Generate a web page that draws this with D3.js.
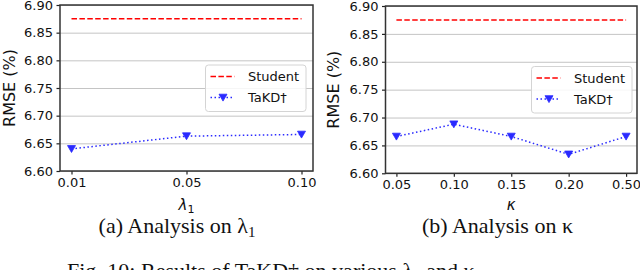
<!DOCTYPE html>
<html>
<head>
<meta charset="utf-8">
<script src="https://cdn.jsdelivr.net/npm/d3@7"></script>
<style>
  html, body { margin: 0; padding: 0; background: #fff; }
  svg { display: block; }
</style>
</head>
<body>
<svg id="chart" width="640" height="270"></svg>
<script>
// ---- data ----
const lambdaCats = ["0.01", "0.05", "0.10"];
const lambdaStudent = [6.875, 6.875, 6.875];
const lambdaTaKD = [6.640, 6.663, 6.666];

const kappaCats = ["0.05", "0.10", "0.15", "0.20", "0.50"];
const kappaStudent = [6.875, 6.875, 6.875, 6.875, 6.875];
const kappaTaKD = [6.666, 6.688, 6.666, 6.634, 6.666];

const yTicks = [6.60, 6.65, 6.70, 6.75, 6.80, 6.85, 6.90];
const yDomain = [6.60, 6.90];
const seriesNames = ["Student", "TaKD\u2020"];

// ---- drawing ----
const svg = d3.select("#chart");
const SANS = "DejaVu Sans, sans-serif";
const SERIF = "Liberation Serif, Times New Roman, serif";
const RED = "#ff0000";
const BLUE = "#2a2aff";

function drawPanel(cfg) {
  const x = d3.scalePoint().domain(cfg.cats).range([cfg.x0, cfg.x1]).padding(cfg.pad);
  const y = d3.scaleLinear().domain(yDomain).range([cfg.y1, cfg.y0]);
  const g = svg.append("g");

  // gridlines
  g.append("g")
    .attr("transform", `translate(${cfg.x0},0)`)
    .call(d3.axisLeft(y).tickValues(yTicks).tickSize(-(cfg.x1 - cfg.x0)).tickFormat(""))
    .call(a => a.select(".domain").remove())
    .call(a => a.selectAll("line").attr("stroke", "#c4c4c4").attr("stroke-width", 1));

  // student dashed line
  const line = d3.line().x((d, i) => x(cfg.cats[i])).y(d => y(d));
  g.append("path").datum(cfg.student)
    .attr("d", line).attr("fill", "none")
    .attr("stroke", RED).attr("stroke-width", 1.5)
    .attr("stroke-dasharray", "5.5,2.4");

  // TaKD dotted line
  g.append("path").datum(cfg.takd)
    .attr("d", line).attr("fill", "none")
    .attr("stroke", BLUE).attr("stroke-width", 1.5)
    .attr("stroke-dasharray", "1.5,2.5");

  // triangle-down markers
  const tri = "M-4,-3.3L4,-3.3L0,3.6Z";
  g.selectAll(".mk").data(cfg.takd).enter().append("path")
    .attr("d", tri)
    .attr("transform", (d, i) => `translate(${x(cfg.cats[i])},${y(d)})`)
    .attr("fill", BLUE).attr("stroke", BLUE).attr("stroke-width", 0.8);

  // axes
  const ax = g.append("g")
    .attr("transform", `translate(0,${cfg.y1})`)
    .call(d3.axisBottom(x).tickSize(3.5).tickPadding(3));
  const ay = g.append("g")
    .attr("transform", `translate(${cfg.x0},0)`)
    .call(d3.axisLeft(y).tickValues(yTicks).tickFormat(d3.format(".2f")).tickSize(3.5).tickPadding(3.5));
  [ax, ay].forEach(a => {
    a.select(".domain").remove();
    a.selectAll("line").attr("stroke", "#222").attr("stroke-width", 1.2);
    a.selectAll("text").attr("font-family", SANS).attr("font-size", 13).attr("fill", "#111");
  });

  // frame
  g.append("rect")
    .attr("x", cfg.x0).attr("y", cfg.y0)
    .attr("width", cfg.x1 - cfg.x0).attr("height", cfg.y1 - cfg.y0)
    .attr("fill", "none").attr("stroke", "#333").attr("stroke-width", 1.5);

  // y label
  g.append("text")
    .attr("transform", `translate(${cfg.ylabX},${(cfg.y0 + cfg.y1) / 2}) rotate(-90)`)
    .attr("text-anchor", "middle")
    .attr("font-family", SANS).attr("font-size", 16).attr("fill", "#111")
    .text("RMSE (%)");

  // x label
  const xl = g.append("text")
    .attr("x", (cfg.x0 + cfg.x1) / 2).attr("y", 210)
    .attr("text-anchor", "middle")
    .attr("font-family", SANS).attr("font-size", 15).attr("fill", "#111");
  xl.append("tspan").attr("font-style", "italic").text(cfg.xSym);
  if (cfg.xSub) xl.append("tspan").attr("font-size", 11).attr("dy", 3).text(cfg.xSub);

  // caption
  const cap = g.append("text")
    .attr("x", cfg.capX).attr("y", 233)
    .attr("text-anchor", "middle")
    .attr("font-family", SERIF).attr("font-size", 22).attr("fill", "#111");
  cap.append("tspan").text(cfg.caption);
  if (cfg.capSub) cap.append("tspan").attr("font-size", 15).attr("dy", 4).text(cfg.capSub);

  // legend
  const lg = g.append("g").attr("transform", `translate(${cfg.legX},${cfg.legY})`);
  lg.append("rect").attr("width", 100.5).attr("height", 46.5).attr("rx", 3)
    .attr("fill", "#fff").attr("fill-opacity", 0.85)
    .attr("stroke", "#d4d4d4").attr("stroke-width", 1);
  lg.append("line").attr("x1", 5).attr("x2", 29).attr("y1", 11.5).attr("y2", 11.5)
    .attr("stroke", RED).attr("stroke-width", 1.5).attr("stroke-dasharray", "5.5,2.4");
  lg.append("line").attr("x1", 5).attr("x2", 29).attr("y1", 32.5).attr("y2", 32.5)
    .attr("stroke", BLUE).attr("stroke-width", 1.5).attr("stroke-dasharray", "1.5,2.5");
  lg.append("path").attr("d", tri).attr("transform", "translate(17.5,32.5)")
    .attr("fill", BLUE).attr("stroke", BLUE).attr("stroke-width", 0.8);
  lg.selectAll(".lt").data(seriesNames).enter().append("text")
    .attr("x", 42.5).attr("y", (d, i) => 11.5 + i * 21).attr("dy", "0.35em")
    .attr("font-family", SANS).attr("font-size", 13).attr("fill", "#111")
    .text(d => d);
}

drawPanel({
  cats: lambdaCats, student: lambdaStudent, takd: lambdaTaKD,
  x0: 60, x1: 313, y0: 5, y1: 171, pad: 0.1,
  ylabX: 14.5, xSym: "\u03bb", xSub: "1",
  caption: "(a) Analysis on \u03bb", capSub: "1", capX: 177,
  legX: 205.5, legY: 65
});

drawPanel({
  cats: kappaCats, student: kappaStudent, takd: kappaTaKD,
  x0: 385.5, x1: 637, y0: 6, y1: 173.3, pad: 0.19,
  ylabX: 339, xSym: "\u03ba", xSub: null,
  caption: "(b) Analysis on \u03ba", capSub: null, capX: 497.5,
  legX: 531.5, legY: 66.5
});

// figure caption (cut off at the bottom)
svg.append("text")
  .attr("x", 67).attr("y", 278)
  .attr("font-family", SERIF).attr("font-size", 22).attr("fill", "#111")
  .text("Fig. 10: Results of TaKD\u2020 on various \u03bb\u2081 and \u03ba");
</script>
</body>
</html>
